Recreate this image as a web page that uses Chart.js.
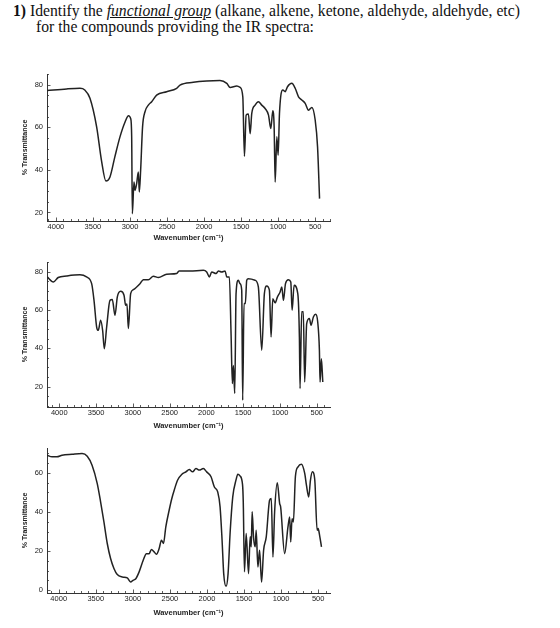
<!DOCTYPE html>
<html lang="en">
<head>
  <meta charset="UTF-8" />
  <title>IR Spectra</title>
  <script src="https://cdn.jsdelivr.net/npm/chart.js"></script>
  <style>
    body { margin: 0; width: 560px; height: 628px; background: #fff; position: relative; overflow: hidden; }
    .q { position: absolute; font-family: "Liberation Serif", "Times New Roman", serif; font-size: 15.7px; line-height: 16px; color: #111; white-space: nowrap; }
    .box { position: absolute; left: 0; }
  </style>
</head>
<body>
  <div class="q" style="left:13px; top:3px;"><b>1)</b> Identify the <i><u>functional group</u></i> (alkane, alkene, ketone, aldehyde, aldehyde, etc)</div>
  <div class="q" style="left:36px; top:18.5px;">for the compounds providing the IR spectra:</div>

  <div class="box" style="top:60px;"><canvas id="ir1" width="340" height="190"></canvas></div>
  <div class="box" style="top:248px;"><canvas id="ir2" width="340" height="190"></canvas></div>
  <div class="box" style="top:436px;"><canvas id="ir3" width="340" height="192"></canvas></div>

  <script>
    // tick labels
    const xTicks = [4000, 3500, 3000, 2500, 2000, 1500, 1000, 500];
    const yTicks1 = [20, 40, 60, 80];
    const yTicks2 = [20, 40, 60, 80];
    const yTicks3 = [0, 20, 40, 60];

    // spectrum 1 (wavenumber, % transmittance)
    const wn1 = [4120, 3855, 3675, 3610, 3540, 3450, 3385, 3325, 3270, 3205, 3135, 3065, 3020, 2990, 2977, 2968, 2946, 2932, 2910, 2887, 2874, 2856, 2830, 2797, 2752, 2707, 2640, 2505, 2370, 2325, 2145, 1965, 1785, 1693, 1648, 1558, 1513, 1477, 1455, 1432, 1401, 1378, 1356, 1311, 1266, 1221, 1176, 1130, 1099, 1072, 1054, 1040, 1018, 1000, 982, 937, 905, 874, 815, 770, 725, 680, 635, 590, 545, 500, 468, 441];
    const t1 = [77.2, 78, 78.3, 77.5, 73.6, 60.2, 44.5, 34.8, 36.7, 46, 55.5, 62.6, 65.4, 64, 55.5, 19.4, 34.3, 30.4, 33.5, 39, 29.6, 39.8, 60.2, 67.3, 70.4, 72, 75.1, 76.7, 78.3, 79.8, 81.1, 81.7, 81.9, 80.6, 78.7, 79.4, 78.7, 74.3, 46.4, 65.7, 66.2, 57, 66.5, 70.4, 72, 70.4, 68.8, 65.7, 59.4, 67.7, 60.2, 34.3, 55.5, 46.9, 66.5, 77.5, 76.7, 79, 80.6, 78.3, 74.3, 72.8, 71.2, 68, 69.3, 63.4, 50.8, 26.5];

    // spectrum 2
    const wn2 = [4165, 4080, 4015, 3900, 3720, 3630, 3560, 3528, 3492, 3470, 3438, 3411, 3388, 3356, 3311, 3279, 3243, 3211, 3166, 3120, 3098, 3080, 3061, 3030, 2993, 2903, 2857, 2789, 2721, 2653, 2540, 2404, 2372, 2223, 2041, 1996, 1960, 1928, 1869, 1837, 1792, 1746, 1724, 1688, 1665, 1647, 1633, 1615, 1597, 1566, 1543, 1520, 1507, 1489, 1471, 1452, 1430, 1339, 1294, 1248, 1212, 1180, 1144, 1121, 1098, 1066, 1034, 998, 975, 953, 925, 885, 853, 835, 808, 758, 736, 727, 705, 683, 664, 637, 600, 578, 546, 515, 487, 464, 455, 437, 418];
    const t2 = [77.2, 74.6, 76.9, 77.7, 78.3, 77.2, 73.7, 65, 51.1, 49.4, 54.6, 49.4, 39.8, 51.1, 65, 65.4, 57.2, 66.8, 69.7, 67.7, 62.4, 63.1, 50.3, 68.5, 70.6, 73.7, 75.8, 75.8, 77.6, 76.9, 78.6, 79, 80.3, 80.3, 80.7, 79.8, 77.2, 79.8, 79, 80.3, 79.8, 80.3, 77.2, 77.2, 47.7, 21.6, 31.1, 16.4, 68.5, 75.5, 73.7, 70.3, 12.9, 63.3, 63.3, 75.5, 76.3, 75.5, 72, 39, 68.5, 72.5, 70.3, 45.9, 65.9, 63.7, 66.8, 69.4, 72, 65, 73.7, 75.8, 74.6, 59.8, 72.9, 68.5, 45.9, 19, 59, 59, 22.4, 52.9, 55.5, 52, 56.3, 57.7, 53.7, 39, 22.4, 34.6, 22.4];

    // spectrum 3
    const wn3 = [4158, 4090, 4025, 3955, 3820, 3685, 3615, 3550, 3480, 3435, 3390, 3345, 3300, 3255, 3210, 3140, 3075, 3030, 2997, 2960, 2915, 2860, 2817, 2781, 2749, 2713, 2681, 2645, 2614, 2587, 2555, 2510, 2474, 2442, 2397, 2338, 2284, 2239, 2194, 2148, 2103, 2049, 2004, 1945, 1900, 1855, 1823, 1796, 1774, 1742, 1715, 1688, 1652, 1607, 1584, 1555, 1520, 1510, 1494, 1471, 1439, 1417, 1403, 1390, 1372, 1349, 1336, 1313, 1290, 1263, 1236, 1200, 1155, 1132, 1110, 1087, 1051, 1019, 1006, 952, 907, 884, 870, 852, 834, 807, 771, 726, 681, 658, 627, 604, 577, 545, 514, 500, 477, 455];
    const t3 = [69, 68.2, 68.2, 69, 69.5, 69.9, 68.5, 63.9, 54.5, 45.2, 34.9, 23.9, 16.2, 11.1, 8, 6.8, 6.3, 4.2, 5.1, 5.9, 9.4, 15.3, 18.7, 18.7, 20.8, 19.6, 18.4, 21.3, 25.6, 23.9, 32.4, 40.9, 46.9, 51.1, 56.2, 59.3, 60.5, 61.7, 60.5, 62.2, 61.4, 62.2, 60.5, 58, 52.8, 50.3, 42.6, 25.6, 8.5, 2, 8.5, 29, 47.7, 56.5, 59.3, 58.5, 54, 45, 9.4, 29, 8.5, 27.3, 22.2, 40.1, 27.3, 22.2, 30.7, 11.9, 20.4, 4.2, 20.4, 27.3, 46, 46.9, 17, 40.1, 54.9, 44.3, 42.6, 18.7, 32.4, 37.5, 24.7, 36.6, 34.9, 58, 63.1, 64.4, 59.7, 53.7, 47.7, 56.2, 60.5, 56.2, 30.7, 31.5, 27.3, 22.2];

    const ink = '#222';

    // small inward tick marks like the printed spectra
    const inwardTicks = {
      id: 'inwardTicks',
      afterDraw(chart) {
        const { ctx, chartArea: a, scales: { x, y } } = chart;
        ctx.save();
        ctx.strokeStyle = '#333';
        ctx.lineWidth = 0.8;
        ctx.beginPath();
        for (let v = Math.floor(x.max / 100) * 100; v >= x.min; v -= 100) {
          const px = Math.round(x.getPixelForValue(v)) + 0.5;
          const len = v % 500 === 0 ? 3.5 : 2;
          ctx.moveTo(px, a.bottom);
          ctx.lineTo(px, a.bottom - len);
        }
        for (let v = Math.ceil(y.min / 5) * 5; v <= y.max; v += 5) {
          const py = Math.round(y.getPixelForValue(v)) + 0.5;
          const len = v % 20 === 0 ? 3.5 : 2;
          ctx.moveTo(a.left, py);
          ctx.lineTo(a.left + len, py);
        }
        ctx.stroke();
        ctx.restore();
      }
    };

    const makeChart = (id, wn, t, xMin, xMax, yMin, yMax, yTicks, padTop, axisH, titlePad, labelPad) => {
      return new Chart(document.getElementById(id), {
        type: 'scatter',
        data: {
          datasets: [{
            data: wn.map((w, i) => ({ x: w, y: t[i] })),
            showLine: true,
            borderColor: ink,
            borderWidth: 1.5,
            pointRadius: 0,
            cubicInterpolationMode: 'monotone'
          }]
        },
        options: {
          responsive: false,
          animation: false,
          layout: { padding: { top: padTop, right: 10, left: 0, bottom: 0 } },
          plugins: { legend: { display: false }, tooltip: { enabled: false } },
          scales: {
            x: {
              type: 'linear',
              reverse: true,
              min: xMin,
              max: xMax,
              afterBuildTicks: s => { s.ticks = xTicks.map(v => ({ value: v })); },
              afterFit: s => { s.height = axisH; },
              grid: { display: false, drawTicks: false },
              border: { display: true, color: '#333', width: 1 },
              ticks: { autoSkip: false, maxRotation: 0, padding: labelPad, color: ink, font: { family: 'Liberation Sans', size: 7.5 }, callback: v => String(v) },
              title: { display: true, text: 'Wavenumber (cm\u207B\u00B9)', color: ink, padding: { top: 0, bottom: titlePad }, font: { family: 'Liberation Sans', size: 7.5, weight: 'bold' } }
            },
            y: {
              min: yMin,
              max: yMax,
              afterBuildTicks: s => { s.ticks = yTicks.map(v => ({ value: v })); },
              afterFit: s => { s.width = 47; },
              grid: { display: false, drawTicks: false },
              border: { display: true, color: '#333', width: 1 },
              ticks: { padding: 4, color: ink, font: { family: 'Liberation Sans', size: 7.5 }, callback: v => String(v) },
              title: { display: true, text: '% Transmittance', color: ink, padding: { top: 21, bottom: 0 }, font: { family: 'Liberation Sans', size: 7, weight: 'bold' } }
            }
          }
        },
        plugins: [inwardTicks]
      });
    };

    makeChart('ir1', wn1, t1, 300, 4120, 16, 85, yTicks1, 14, 29, 7.5, 1);
    makeChart('ir2', wn2, t2, 320, 4167, 9.4, 85, yTicks2, 14, 31, 7.5, 1.5);
    makeChart('ir3', wn3, t3, 340, 4158, -1.4, 72.7, yTicks3, 12, 35, 11, 1.5);
  </script>
</body>
</html>
